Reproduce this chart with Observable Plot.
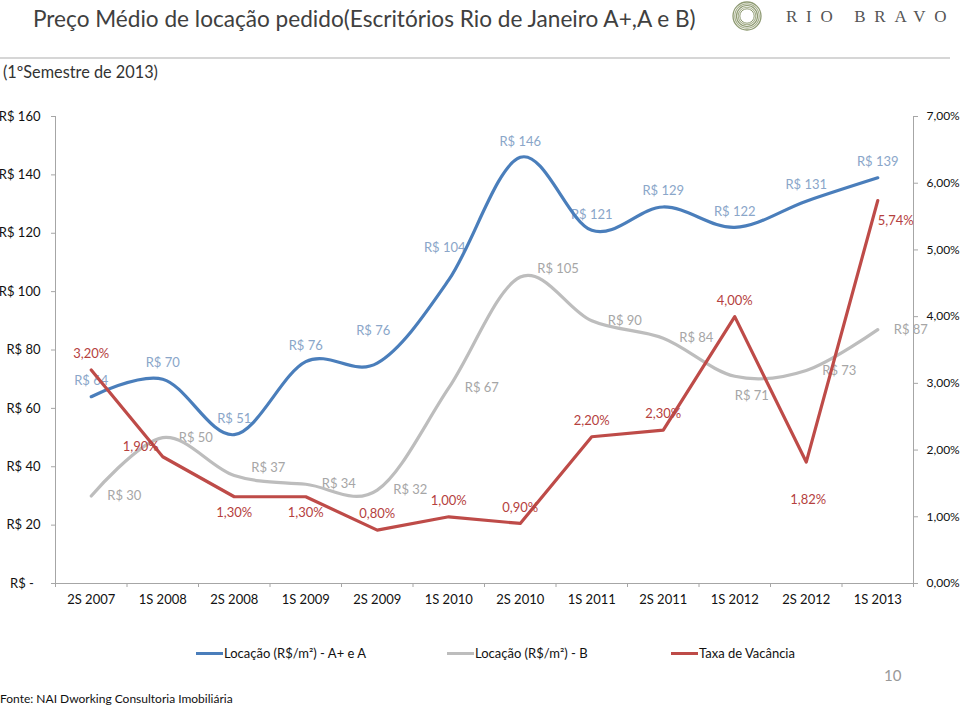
<!DOCTYPE html>
<html>
<head>
<meta charset="utf-8">
<script src="https://cdn.jsdelivr.net/npm/d3@7"></script>
<script src="https://cdn.jsdelivr.net/npm/@observablehq/plot@0.6"></script>
<style>
  html, body { margin: 0; padding: 0; background: #fff; }
  body { width: 960px; height: 708px; position: relative; overflow: hidden; font-family: Lato, "Open Sans", sans-serif; }
  .abs { position: absolute; white-space: nowrap; }
  #title { left: 33px; top: 5px; font-size: 22.6px; color: #404040; }
  #rule { left: 0; top: 57px; width: 950px; height: 2px; background: #d6d6d6; }
  #subtitle { left: 3px; top: 62px; font-size: 16.3px; color: #333; }
  #logo { left: 728px; top: 1px; }
  #brand { left: 786px; top: 7px; font-family: "Liberation Serif", "DejaVu Serif", serif; font-size: 17px; color: #555; letter-spacing: 8.7px; }
  #chart { left: 0; top: 100px; }
  .leg { top: 645px; font-size: 13px; color: #111; display: flex; align-items: center; }
  .leg span.sw { display: inline-block; width: 27px; height: 3px; margin-right: 1px; }
  #page { left: 884px; top: 666px; font-size: 15px; color: #999; }
  #source { left: 0; top: 691px; font-size: 12px; color: #111; }
</style>
</head>
<body>
<div id="title" class="abs">Preço Médio de locação pedido(Escritórios Rio de Janeiro A+,A e B)</div>
<div id="rule" class="abs"></div>
<div id="subtitle" class="abs">(1ºSemestre de 2013)</div>
<svg id="logo" class="abs" width="40" height="32" viewBox="0 0 40 32">
  <g fill="none" stroke="#8e9a72">
    <circle cx="19" cy="15" r="14" stroke-width="1.3"/>
    <circle cx="19" cy="15" r="12.2" stroke-width="1.2" stroke="#a7b08c"/>
    <circle cx="19" cy="15" r="10.5" stroke-width="1.2"/>
    <circle cx="19" cy="15" r="8.8" stroke-width="1.1" stroke="#a7b08c"/>
    <circle cx="19" cy="15" r="7.2" stroke-width="1"/>
  </g>
</svg>
<div id="brand" class="abs">RIO BRAVO</div>
<div id="chart" class="abs"></div>
<div class="abs leg" style="left:196px"><span class="sw" style="background:#4a7ebb"></span>Locação (R$/m²) - A+ e A</div>
<div class="abs leg" style="left:447px"><span class="sw" style="background:#bdbdbd"></span>Locação (R$/m²) - B</div>
<div class="abs leg" style="left:671px"><span class="sw" style="background:#be4b48"></span>Taxa de Vacância</div>
<div id="page" class="abs">10</div>
<div id="source" class="abs">Fonte: NAI Dworking Consultoria Imobiliária</div>

<script>
// ---- data ----
const categories = ["2S 2007","1S 2008","2S 2008","1S 2009","2S 2009","1S 2010","2S 2010","1S 2011","2S 2011","1S 2012","2S 2012","1S 2013"];
const priceAplusA = [64, 70, 51, 76, 75.5, 104, 146, 121, 129, 122, 131, 139];
const priceB = [30, 50, 37, 34, 32, 67, 105, 90, 84, 71, 73, 87];
const vacancy = [3.20, 1.90, 1.30, 1.30, 0.80, 1.00, 0.90, 2.20, 2.30, 4.00, 1.82, 5.74];
const leftTicks = [0, 20, 40, 60, 80, 100, 120, 140, 160];
const leftTickLabels = ["R$ -\u00a0\u00a0", "R$ 20", "R$ 40", "R$ 60", "R$ 80", "R$ 100", "R$ 120", "R$ 140", "R$ 160"];
const rightTicks = [0, 1, 2, 3, 4, 5, 6, 7];
const rightTickLabels = ["0,00%", "1,00%", "2,00%", "3,00%", "4,00%", "5,00%", "6,00%", "7,00%"];
// label placement (like Excel data label position settings)
const bluePlace = ["above","above","above","above","high","high","above","above","above","above","above","above"];
const grayPlace = ["right","right","upRight","right","right","right","upRight","right","right","belowRight","right","right"];
const redPlace = ["above","left","below","below","above","above","above","above","above","above","low","belowRight"];

// ---- helpers ----
const pctMax = 7, priceMax = 160;
const pctToPrice = p => p * priceMax / pctMax;
const fmtPrice = v => "R$ " + Math.round(v);
const fmtPct = v => v.toFixed(2).replace(".", ",") + "%";

const blueRows = priceAplusA.map((v, i) => ({i, v, label: fmtPrice(v), place: bluePlace[i]}));
const grayRows = priceB.map((v, i) => ({i, v, label: fmtPrice(v), place: grayPlace[i]}));
const redRows = vacancy.map((p, i) => ({i, v: pctToPrice(p), label: fmtPct(p), place: redPlace[i]}));

const placements = {
  above: {dx: 0, dy: -16, textAnchor: "middle"},
  high: {dx: -4, dy: -32, textAnchor: "middle"},
  below: {dx: 0, dy: 16, textAnchor: "middle"},
  low: {dx: 2, dy: 38, textAnchor: "middle"},
  left:  {dx: -4, dy: -10, textAnchor: "end"},
  right: {dx: 16, dy: 0, textAnchor: "start"},
  upRight: {dx: 17, dy: -8, textAnchor: "start"},
  belowRight: {dx: 0, dy: 20, textAnchor: "start"}
};
function labelMarks(rows, color) {
  return Object.entries(placements).map(([name, opt]) =>
    Plot.text(rows.filter(d => d.place === name), {
      x: "i", y: "v", text: "label", fill: color, fontSize: 13, ...opt
    })
  );
}

const blue = "#4a7ebb", gray = "#bdbdbd", red = "#be4b48", axisGray = "#a6a6a6";
const idx = categories.map((_, i) => i);
const bounds = d3.range(-0.5, categories.length, 1);

const chart = Plot.plot({
  width: 960,
  height: 520,
  marginTop: 16,
  marginBottom: 37,
  marginLeft: 55,
  marginRight: 47,
  x: {type: "linear", domain: [-0.5, categories.length - 0.5], axis: null},
  y: {domain: [0, priceMax], axis: null},
  style: {fontFamily: "Lato, 'Open Sans', sans-serif", fontSize: "13px", background: "transparent", overflow: "visible"},
  marks: [
    Plot.ruleX([-0.5, categories.length - 0.5], {y1: 0, y2: priceMax, stroke: axisGray}),
    Plot.ruleY([0], {x1: -0.5, x2: categories.length - 0.5, stroke: axisGray}),
    Plot.axisY(leftTicks, {anchor: "left", tickSize: 4, tickPadding: 11, stroke: axisGray, fill: "#111", fontSize: 13, label: null,
      tickFormat: d => leftTickLabels[leftTicks.indexOf(d)]}),
    Plot.axisY(rightTicks.map(pctToPrice), {anchor: "right", tickSize: 4, tickPadding: 9, stroke: axisGray, fill: "#111", fontSize: 12, label: null,
      tickFormat: (d, k) => rightTickLabels[k]}),
    Plot.axisX(bounds, {anchor: "bottom", tickSize: 4, stroke: axisGray, tickFormat: () => "", label: null}),
    Plot.axisX(idx, {anchor: "bottom", tickSize: 0, tickPadding: 11, fill: "#111", fontSize: 13, label: null,
      tickFormat: d => categories[d]}),
    ...labelMarks(grayRows, "#a6a6a6"),
    ...labelMarks(blueRows, "#8aa6c9"),
    Plot.line(grayRows, {x: "i", y: "v", curve: "cardinal", stroke: gray, strokeWidth: 3.2}),
    Plot.line(blueRows, {x: "i", y: "v", curve: "cardinal", stroke: blue, strokeWidth: 3.2}),
    Plot.line(redRows, {x: "i", y: "v", curve: "linear", stroke: red, strokeWidth: 3.2}),
    ...labelMarks(redRows, "#b5413e")
  ]
});
document.getElementById("chart").appendChild(chart);
</script>
</body>
</html>
